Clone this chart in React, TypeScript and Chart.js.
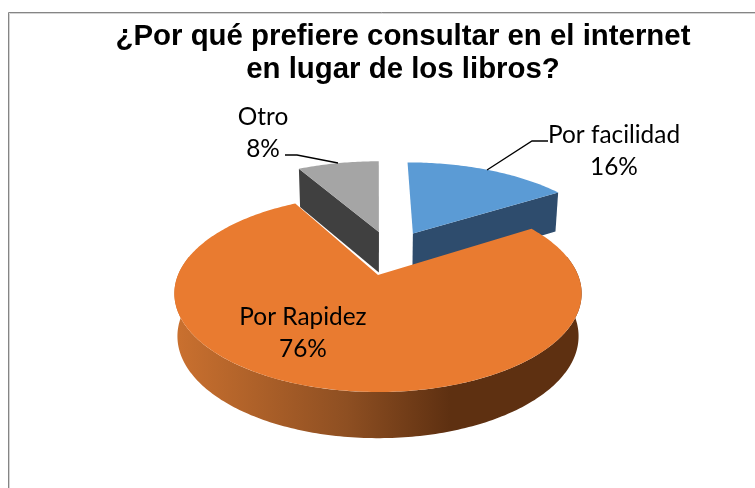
import React, { useEffect, useRef } from "react";
import { Chart, PieController, ArcElement, Title } from "chart.js";

const titleLines = ["¿Por qué prefiere consultar en el internet", "en lugar de los libros?"];
const categories = ["Por facilidad", "Por Rapidez", "Otro"];
const percentages = [16, 76, 8];
const percentLabels = ["16%", "76%", "8%"];
const topColors = ["#5b9bd5", "#e97b30", "#a5a5a5"];
const wallColors = ["#2e4c6d", "#5e3011", "#404040"];
// explosion of each slice on the plate, in plate-radius units
const explodeU = [0.19, 0, 0.005];
const explodeV = [-0.475, 0, -0.495];
const sliceScale = [1.05, 1, 1.05];

const TIP_X = 378, TIP_Y = 275, PLATE_A = 200, PLATE_B = 95, PERSP = 0.188;

function project(u: number, v: number, depth = 0): [number, number] {
  const w = 1 - PERSP * v;
  const x = TIP_X + (PLATE_A * u) / w;
  const y = TIP_Y + (PLATE_B * v) / w;
  if (!depth) return [x, y];
  return [TIP_X + (x - TIP_X) * 0.985, y + 24 + 18 / w];
}

function arcPoints(a0: number, a1: number, du: number, dv: number, s: number, depth: number) {
  const pts: [number, number][] = [];
  const n = Math.max(8, Math.ceil((a1 - a0) * 60));
  for (let i = 0; i <= n; i++) {
    const a = a0 + ((a1 - a0) * i) / n;
    pts.push(project(s * Math.cos(a) + du, s * Math.sin(a) + dv, depth));
  }
  return pts;
}

function polygon(ctx: CanvasRenderingContext2D, pts: [number, number][], fill: string | CanvasGradient) {
  ctx.beginPath();
  pts.forEach((p, i) => (i ? ctx.lineTo(p[0], p[1]) : ctx.moveTo(p[0], p[1])));
  ctx.closePath();
  ctx.fillStyle = fill;
  ctx.fill();
}

class Arc3D extends ArcElement {
  static id = "arc3d";
  static defaults = ArcElement.defaults;
  static defaultRoutes = ArcElement.defaultRoutes;
  draw(ctx: CanvasRenderingContext2D) {
    const self = this as any;
    const a0: number = self.startAngle;
    const a1: number = self.endAngle;
    const i: number = self.$context.dataIndex;
    const du = explodeU[i], dv = explodeV[i], s = sliceScale[i];
    ctx.save();
    const tip = project(du, dv);
    const tipLow = project(du, dv, 1);
    if (i === 0) {
      const end = project(s * Math.cos(a1) + du, s * Math.sin(a1) + dv);
      const endLow = project(s * Math.cos(a1) + du, s * Math.sin(a1) + dv, 1);
      polygon(ctx, [tip, end, endLow, tipLow], wallColors[0]);
    } else if (i === 2) {
      const start = project(s * Math.cos(a0) + du, s * Math.sin(a0) + dv);
      const startLow = project(s * Math.cos(a0) + du, s * Math.sin(a0) + dv, 1);
      polygon(ctx, [tip, start, startLow, tipLow], wallColors[2]);
    } else {
      const fa0 = Math.max(a0, 0), fa1 = Math.min(a1, Math.PI);
      const upper = arcPoints(fa0 - 0.2, fa1 + 0.2, du, dv, s, 0);
      const lower = arcPoints(fa0 - 0.2, fa1 + 0.2, du, dv, s, 1).reverse();
      const g = ctx.createLinearGradient(178, 0, 450, 0);
      g.addColorStop(0, "#c9702f");
      g.addColorStop(0.62, "#8e4f22");
      g.addColorStop(1, wallColors[1]);
      polygon(ctx, [...upper, ...lower], g);
    }
    polygon(ctx, [tip, ...arcPoints(a0, a1, du, dv, s, 0)], self.options.backgroundColor);
    ctx.restore();
  }
}

class Pie3D extends PieController {
  static id = "pie3d";
  static defaults = { ...PieController.defaults, dataElementType: "arc3d" };
  static overrides = PieController.overrides;
}

// blue and grey first so that the orange plate overlaps their walls
const order = [2, 0, 1];
class OrderedPie extends Pie3D {
  static id = "pie3dOrdered";
  draw() {
    const ctx = (this as any).chart.ctx;
    const elements = (this.getMeta() as any).data;
    order.forEach((i) => elements[i].draw(ctx));
  }
}

const labelsPlugin = {
  id: "sliceLabels",
  afterDatasetsDraw(chart: Chart) {
    const ctx = chart.ctx;
    ctx.save();
    ctx.strokeStyle = "#000";
    ctx.lineWidth = 1.3;
    ctx.beginPath();
    ctx.moveTo(548, 141); ctx.lineTo(532, 141); ctx.lineTo(487, 170);
    ctx.moveTo(285, 155); ctx.lineTo(297, 155); ctx.lineTo(338, 163);
    ctx.stroke();
    ctx.font = '24.4px Lato, "Open Sans", sans-serif';
    ctx.fillStyle = "#000";
    ctx.textAlign = "center";
    ctx.textBaseline = "middle";
    const centers: [number, number][] = [[614, 135], [303, 317], [263, 117]];
    categories.forEach((name, i) => {
      const [x, y] = centers[i];
      ctx.fillText(name, x, y);
      ctx.fillText(percentLabels[i], x, y + 32);
    });
    ctx.restore();
  },
};

const framePlugin = {
  id: "frame",
  beforeDraw(chart: Chart) {
    const ctx = chart.ctx;
    ctx.save();
    ctx.lineWidth = 1;
    ctx.strokeStyle = "#d4d4d4";
    ctx.beginPath();
    ctx.moveTo(9.5, 488);
    ctx.lineTo(9.5, 13.5);
    ctx.lineTo(755, 13.5);
    ctx.stroke();
    ctx.strokeStyle = "#858585";
    ctx.beginPath();
    ctx.moveTo(8.5, 488);
    ctx.lineTo(8.5, 12.5);
    ctx.lineTo(755, 12.5);
    ctx.stroke();
    ctx.restore();
  },
};

Chart.register(PieController, ArcElement, Arc3D, Pie3D, OrderedPie, Title);

export default function App() {
  const ref = useRef<HTMLCanvasElement>(null);
  useEffect(() => {
    const chart = new Chart(ref.current!, {
      type: "pie3dOrdered" as any,
      data: {
        labels: categories,
        datasets: [{ data: percentages, backgroundColor: topColors }],
      },
      options: {
        animation: false,
        responsive: false,
        layout: { padding: { left: 51, top: 20 } },
        plugins: {
          legend: { display: false },
          tooltip: { enabled: false },
          title: {
            display: true,
            text: titleLines,
            color: "#000",
            font: { family: '"Liberation Sans", Arial, sans-serif', size: 29.4, weight: "bold", lineHeight: 1.12 },
            padding: 0,
          },
        },
      } as any,
      plugins: [framePlugin, labelsPlugin],
    });
    return () => chart.destroy();
  }, []);
  return (
    <div style={{ position: "absolute", left: 0, top: 0, width: 755, height: 488, background: "#fff" }}>
      <canvas ref={ref} width={755} height={488} style={{ display: "block" }} />
    </div>
  );
}
